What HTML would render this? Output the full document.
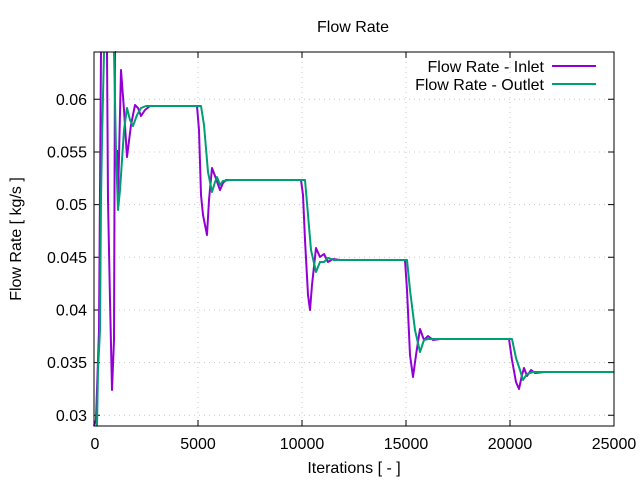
<!DOCTYPE html>
<html><head><style>body{margin:0;background:#fff}</style></head><body>
<svg width="640" height="480" xmlns="http://www.w3.org/2000/svg" font-family="Liberation Sans, sans-serif" font-size="16">
<rect width="640" height="480" fill="#fff"/>
<g stroke="#c8c8c8" stroke-width="1" stroke-dasharray="1,4">
<line x1="198" y1="52" x2="198" y2="426"/><line x1="302" y1="52" x2="302" y2="426"/><line x1="406" y1="52" x2="406" y2="426"/><line x1="510" y1="52" x2="510" y2="426"/>
<line x1="94" y1="99.3" x2="614" y2="99.3"/><line x1="94" y1="152" x2="614" y2="152"/><line x1="94" y1="204.6" x2="614" y2="204.6"/><line x1="94" y1="257.3" x2="614" y2="257.3"/><line x1="94" y1="310" x2="614" y2="310"/><line x1="94" y1="362.6" x2="614" y2="362.6"/><line x1="94" y1="415.3" x2="614" y2="415.3"/>
</g>
<g stroke="#000" stroke-width="1">
<path d="M198 426v-6M302 426v-6M406 426v-6M510 426v-6M198 52v6M302 52v6M406 52v6M510 52v6"/>
<path d="M94 99.3h6M94 152h6M94 204.6h6M94 257.3h6M94 310h6M94 362.6h6M94 415.3h6M614 99.3h-6M614 152h-6M614 204.6h-6M614 257.3h-6M614 310h-6M614 362.6h-6M614 415.3h-6"/>
</g>
<g fill="none" stroke-width="2" stroke-linejoin="round">
<path stroke="#9400d3" d="M94 426 L96 420 L99 330 L101 52 M107 52 L108 200 L110 300 L112 390 L114 340 L115 52 M115 52 L116 52 M117 150 L118 200 L121 70 L124 110 L127 157 L131 125 L135 105 L138 108 L141 116 L145 110 L150 106 L197 106 L199 130 L201 195 L203 215 L207 235 L209 200 L212 168 L215 176 L220 190 L223 183 L226 180 L232 180 L301 180 L303 195 L305 240 L308 295 L310 310 L312 285 L316 248 L320 257 L324 254 L328 262 L333 259 L340 260 L405 260 L407 290 L410 355 L413 377 L416 355 L420 329 L424 340 L428 336 L433 340 L440 339 L509 339 L512 360 L516 382 L519 389 L522 375 L524 368 L527 376 L531 370 L535 373 L545 372 L614 372"/>
<path stroke="#009e73" d="M97 426 L98 370 L100 330 L101 200 L102 140 L104 52 M114 52 L116 150 L118 210 L120 190 L124 130 L127 108 L130 120 L133 126 L137 115 L141 108 L146 106 L201 106 L204 125 L208 172 L212 192 L215 182 L217 177 L220 185 L223 181 L230 180 L305 180 L307 203 L311 250 L316 272 L320 262 L324 262 L328 258 L334 260 L407 260 L410 290 L415 330 L420 352 L424 340 L428 339 L434 339 L512 339 L516 358 L520 370 L523 380 L527 374 L533 372 L614 372"/>
</g>
<rect x="94" y="52" width="520" height="374" fill="none" stroke="#000" stroke-width="1"/>
<g text-anchor="end">
<text x="87" y="105">0.06</text><text x="87" y="157.5">0.055</text><text x="87" y="210">0.05</text><text x="87" y="263">0.045</text><text x="87" y="315.5">0.04</text><text x="87" y="368">0.035</text><text x="87" y="421">0.03</text>
<text x="544" y="72">Flow Rate - Inlet</text><text x="544" y="90">Flow Rate - Outlet</text>
</g>
<line x1="552" y1="66" x2="596" y2="66" stroke="#9400d3" stroke-width="2"/>
<line x1="552" y1="84" x2="596" y2="84" stroke="#009e73" stroke-width="2"/>
<g text-anchor="middle">
<text x="95" y="449">0</text><text x="198" y="449">5000</text><text x="302" y="449">10000</text><text x="406" y="449">15000</text><text x="510" y="449">20000</text><text x="614" y="449">25000</text>
<text x="354" y="473">Iterations [ - ]</text>
<text x="353" y="32">Flow Rate</text>
<text transform="translate(21,239) rotate(-90)">Flow Rate [ kg/s ]</text>
</g>
</svg>
</body></html>
